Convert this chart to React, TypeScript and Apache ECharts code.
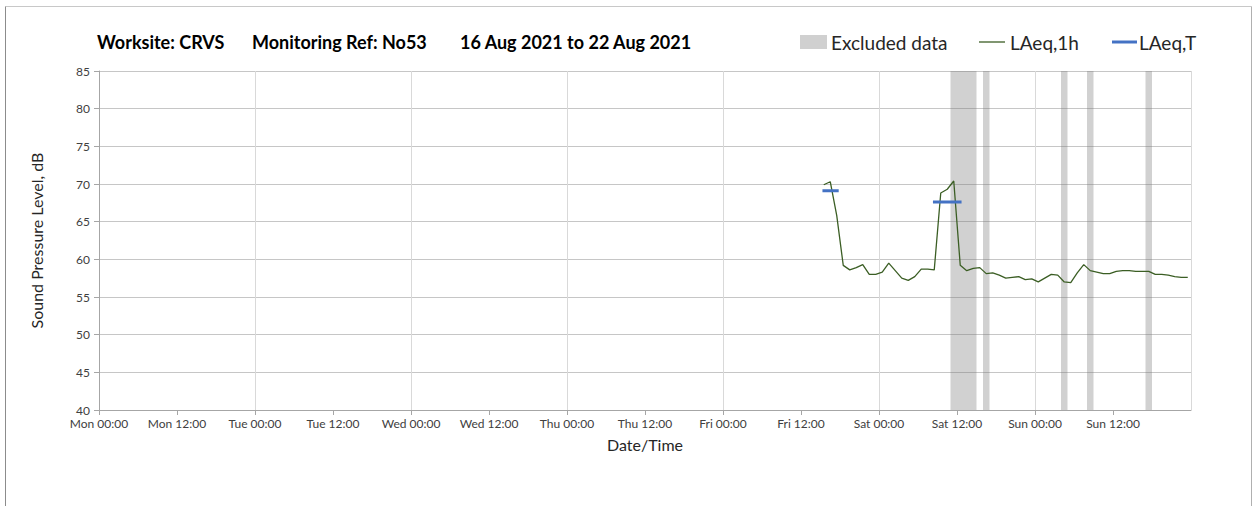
import React, { useEffect, useRef } from "react";
import * as echarts from "echarts";

// ---- data ----
const dayNames = ["Mon", "Tue", "Wed", "Thu", "Fri", "Sat", "Sun"];
const yTicks = { min: 40, max: 85, step: 5 };
// hours from Mon 00:00 of first hourly LAeq,1h point
const laeq1hStartHour = 111.5;
const laeq1hValues = [
  69.9, 70.3, 65.8, 59.2, 58.6, 58.9, 59.3, 58.0, 58.0, 58.3, 59.5, 58.5, 57.5,
  57.2, 57.7, 58.7, 58.7, 58.6, 68.8, 69.3, 70.4, 59.2, 58.5, 58.8, 58.9, 58.1,
  58.2, 57.9, 57.5, 57.6, 57.7, 57.3, 57.4, 57.0, 57.5, 58.0, 57.9, 57.0, 56.9,
  58.2, 59.3, 58.5, 58.3, 58.1, 58.1, 58.4, 58.5, 58.5, 58.4, 58.4, 58.4, 58.0,
  58.0, 57.9, 57.7, 57.6, 57.6,
];
const laeqTStart = [111.3, 128.3];
const laeqTEnd = [113.8, 132.7];
const laeqTValues = [69.1, 67.6];
const excludedStart = [131, 136, 148, 152, 161];
const excludedEnd = [135, 137, 149, 153, 162];

const FONT = "Lato, 'Open Sans', sans-serif";

export default function App() {
  const ref = useRef<HTMLDivElement>(null);

  useEffect(() => {
    if (!ref.current) return;
    const chart = echarts.init(ref.current, null, { renderer: "svg" });

    const lineData = laeq1hValues.map((v, i) => [laeq1hStartHour + i, v]);
    const tData: any[] = [];
    laeqTValues.forEach((v, i) => {
      if (i > 0) tData.push([laeqTStart[i], "-"]);
      tData.push([laeqTStart[i], v]);
      tData.push([laeqTEnd[i], v]);
    });
    const exclData = excludedStart.map((s, i) => [s, excludedEnd[i]]);

    const xFmt = (v: number) => {
      if (v >= 168) return "";
      const d = dayNames[Math.floor(v / 24)];
      const h = v % 24 === 0 ? "00" : "12";
      return `${d} ${h}:00`;
    };

    chart.setOption({
      animation: false,
      backgroundColor: "#ffffff",
      textStyle: { fontFamily: FONT },
      grid: { left: 99, right: 62, top: 71, bottom: 96 },
      xAxis: [
        {
          type: "value",
          min: 0,
          max: 168,
          interval: 12,
          name: "Date/Time",
          nameLocation: "middle",
          nameGap: 26,
          nameTextStyle: { fontSize: 16, color: "#262626", fontFamily: FONT },
          axisLine: { show: true, lineStyle: { color: "#a6a6a6", width: 1 } },
          axisTick: { show: true, length: 5, lineStyle: { color: "#a6a6a6" } },
          axisLabel: {
            formatter: xFmt,
            fontSize: 12,
            color: "#404040",
            margin: 7,
            fontFamily: FONT,
            showMaxLabel: false,
          },
          splitLine: { show: false },
        },
        {
          type: "value",
          min: 0,
          max: 168,
          interval: 24,
          position: "bottom",
          axisLine: { show: false },
          axisTick: { show: false },
          axisLabel: { show: false },
          splitLine: { show: true, lineStyle: { color: "#d9d9d9", width: 1 } },
        },
      ],
      yAxis: {
        type: "value",
        min: yTicks.min,
        max: yTicks.max,
        interval: yTicks.step,
        name: "Sound Pressure Level, dB",
        nameLocation: "middle",
        nameGap: 55,
        nameRotate: 90,
        nameTextStyle: { fontSize: 16, color: "#262626", fontFamily: FONT },
        axisLine: { show: true, lineStyle: { color: "#a6a6a6", width: 1 } },
        axisTick: { show: true, length: 5, lineStyle: { color: "#a6a6a6" } },
        axisLabel: { fontSize: 12, color: "#404040", margin: 9, fontFamily: FONT },
        splitLine: { show: true, lineStyle: { color: "#c6c6c6", width: 1 } },
      },
      series: [
        {
          type: "custom",
          name: "Excluded data",
          xAxisIndex: 0,
          silent: true,
          z: 1,
          encode: { x: [0, 1] },
          data: exclData,
          renderItem: (params: any, api: any) => {
            const s = api.coord([api.value(0), yTicks.max]);
            const e = api.coord([api.value(1), yTicks.min]);
            return {
              type: "rect",
              shape: { x: s[0], y: s[1], width: e[0] - s[0], height: e[1] - s[1] },
              style: { fill: "rgba(120,120,120,0.34)" },
            };
          },
        },
        {
          type: "line",
          name: "LAeq,1h",
          xAxisIndex: 0,
          data: lineData,
          showSymbol: false,
          symbol: "none",
          z: 3,
          lineStyle: { color: "#3b5e24", width: 1.3 },
          itemStyle: { color: "#3b5e24" },
        },
        {
          type: "line",
          name: "LAeq,T",
          xAxisIndex: 0,
          data: tData,
          connectNulls: false,
          showSymbol: false,
          symbol: "none",
          z: 4,
          lineStyle: { color: "#4472c4", width: 3 },
          itemStyle: { color: "#4472c4" },
        },
      ],
      graphic: [
        { type: "line", shape: { x1: 5.5, y1: 6.5, x2: 1251.5, y2: 6.5 }, style: { stroke: "#c8c8c8", lineWidth: 1 } },
        { type: "line", shape: { x1: 5.5, y1: 6.5, x2: 5.5, y2: 506 }, style: { stroke: "#8c8c8c", lineWidth: 1 } },
        { type: "line", shape: { x1: 1251.5, y1: 6.5, x2: 1251.5, y2: 506 }, style: { stroke: "#b0b0b0", lineWidth: 1 } },
        {
          type: "text",
          x: 97,
          y: 42,
          style: { text: "Worksite: CRVS", font: `bold 18px ${FONT}`, fill: "#000000", verticalAlign: "middle" },
        },
        {
          type: "text",
          x: 252,
          y: 42,
          style: { text: "Monitoring Ref: No53", font: `bold 18px ${FONT}`, fill: "#000000", verticalAlign: "middle" },
        },
        {
          type: "text",
          x: 460,
          y: 42,
          style: { text: "16 Aug 2021 to 22 Aug 2021", font: `bold 18px ${FONT}`, fill: "#000000", verticalAlign: "middle" },
        },
        { type: "rect", shape: { x: 800, y: 35, width: 27, height: 14 }, style: { fill: "#d0d0d0" } },
        {
          type: "text",
          x: 831,
          y: 42,
          style: { text: "Excluded data", font: `19px ${FONT}`, fill: "#262626", verticalAlign: "middle" },
        },
        { type: "line", shape: { x1: 979, y1: 42, x2: 1005, y2: 42 }, style: { stroke: "#3b5e24", lineWidth: 1.3 } },
        {
          type: "text",
          x: 1010,
          y: 42,
          style: { text: "LAeq,1h", font: `19px ${FONT}`, fill: "#262626", verticalAlign: "middle" },
        },
        { type: "line", shape: { x1: 1112, y1: 42, x2: 1137, y2: 42 }, style: { stroke: "#4472c4", lineWidth: 3 } },
        {
          type: "text",
          x: 1139,
          y: 42,
          style: { text: "LAeq,T", font: `19px ${FONT}`, fill: "#262626", verticalAlign: "middle" },
        },
      ],
    });

    return () => chart.dispose();
  }, []);

  return (
    <div
      ref={ref}
      style={{ position: "absolute", left: 0, top: 0, width: 1253, height: 506 }}
    />
  );
}
